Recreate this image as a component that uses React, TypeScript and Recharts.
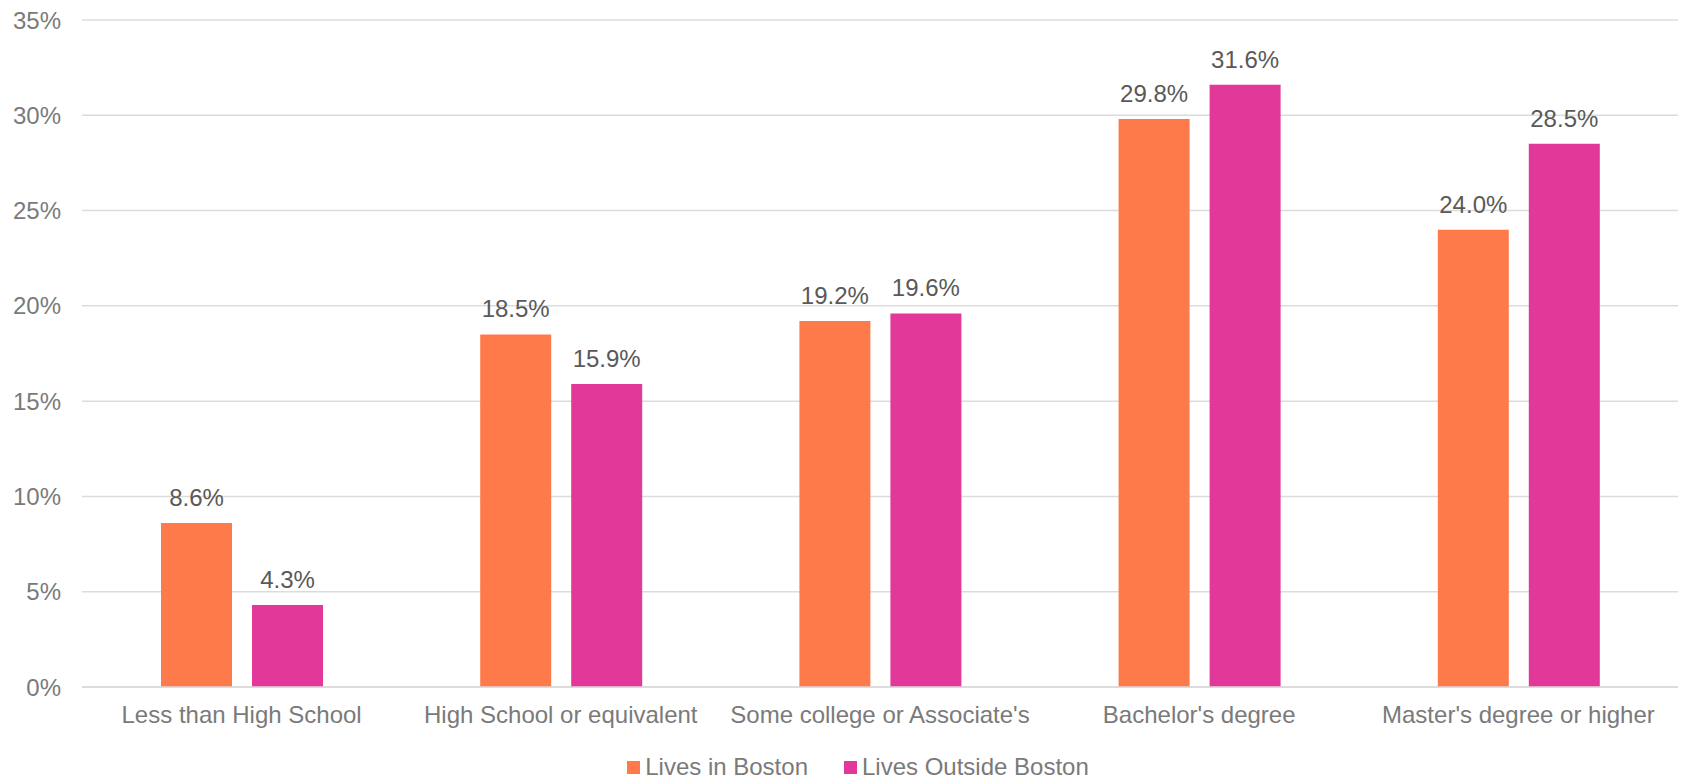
import React from "react";
import {
  BarChart,
  Bar,
  XAxis,
  YAxis,
  CartesianGrid,
  Legend,
  LabelList,
} from "recharts";

const categories = [
  "Less than High School",
  "High School or equivalent",
  "Some college or Associate's",
  "Bachelor's degree",
  "Master's degree or higher",
];
const livesInBoston = [8.6, 18.5, 19.2, 29.8, 24.0];
const livesOutsideBoston = [4.3, 15.9, 19.6, 31.6, 28.5];
const yTicks = [0, 5, 10, 15, 20, 25, 30, 35];

const series = [
  { key: "inBoston", name: "Lives in Boston", color: "#FF7A4B" },
  { key: "outsideBoston", name: "Lives Outside Boston", color: "#E1389A" },
];

const FONT = '"Liberation Sans", Arial, sans-serif';

const chartData = categories.map((c, i) => ({
  category: c,
  inBoston: livesInBoston[i],
  outsideBoston: livesOutsideBoston[i],
}));

const pct = (v: number) => `${v}%`;
const pct1 = (v: any) => `${Number(v).toFixed(1)}%`;

function LegendContent() {
  return (
    <div
      style={{
        display: "flex",
        justifyContent: "center",
        alignItems: "center",
        paddingLeft: 38,
        height: 24,
        lineHeight: "24px",
        fontFamily: FONT,
        fontSize: 24,
        color: "#7a7a7a",
      }}
    >
      {series.map((s, i) => (
        <div
          key={s.key}
          style={{
            display: "flex",
            alignItems: "center",
            marginLeft: i === 0 ? 0 : 36,
          }}
        >
          <span
            style={{
              display: "inline-block",
              width: 13,
              height: 13,
              background: s.color,
              marginRight: 5,
            }}
          />
          <span>{s.name}</span>
        </div>
      ))}
    </div>
  );
}

export default function App() {
  return (
    <div style={{ position: "absolute", left: 0, top: 0, width: 1683, height: 779 }}>
      <BarChart
        width={1683}
        height={779}
        data={chartData}
        margin={{ top: 20, right: 5, left: 0, bottom: 0 }}
        barGap={20}
        style={{ fontFamily: FONT }}
      >
        <CartesianGrid stroke="#dcdcdc" strokeWidth={1.5} vertical={false} />
        <XAxis
          dataKey="category"
          height={68}
          axisLine={{ stroke: "#d9d9d9", strokeWidth: 1.5 }}
          tickLine={false}
          tickSize={0}
          tickMargin={19}
          interval={0}
          tick={{ fill: "#7a7a7a", fontSize: 24, fontFamily: FONT }}
        />
        <YAxis
          width={82}
          domain={[0, 35]}
          ticks={yTicks}
          tickFormatter={pct}
          axisLine={false}
          tickLine={false}
          tickSize={0}
          tickMargin={21}
          tick={{ fill: "#7a7a7a", fontSize: 24, fontFamily: FONT }}
        />
        <Legend verticalAlign="bottom" content={<LegendContent />} />
        {series.map((s) => (
          <Bar
            key={s.key}
            dataKey={s.key}
            name={s.name}
            fill={s.color}
            barSize={71}
            isAnimationActive={false}
          >
            <LabelList
              dataKey={s.key}
              position="top"
              offset={17}
              formatter={pct1}
              style={{ fill: "#595959", fontSize: 24, fontFamily: FONT }}
            />
          </Bar>
        ))}
      </BarChart>
    </div>
  );
}
